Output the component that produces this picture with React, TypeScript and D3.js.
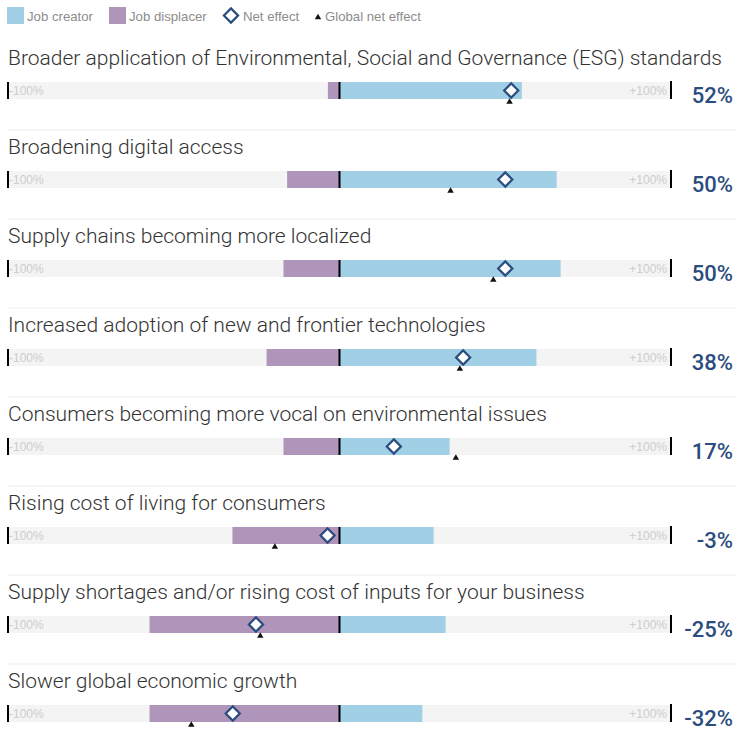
import React from "react";
import * as d3 from "d3";

const categories = [
  "Broader application of Environmental, Social and Governance (ESG) standards",
  "Broadening digital access",
  "Supply chains becoming more localized",
  "Increased adoption of new and frontier technologies",
  "Consumers becoming more vocal on environmental issues",
  "Rising cost of living for consumers",
  "Supply shortages and/or rising cost of inputs for your business",
  "Slower global economic growth",
];
const creator = [55, 65.5, 66.7, 59.4, 33.2, 28.4, 32, 25];
const displacer = [-3.5, -15.8, -16.9, -22, -16.9, -32.3, -57.3, -57.3];
const netEffect = [51.8, 50, 50, 37.3, 16.4, -3.6, -25.2, -32.2];
const globalNet = [51.3, 33.5, 46.4, 36.3, 35.1, -19.5, -23.9, -44.7];
const netLabels = ["52%", "50%", "50%", "38%", "17%", "-3%", "-25%", "-32%"];
const legendLabels = ["Job creator", "Job displacer", "Net effect", "Global net effect"];
const axisLabels = ["-100%", "+100%"];

const W = 736;
const H = 731;
const C_CREATOR = "#a0cfe6";
const C_DISP = "#b095bb";
const C_NET = "#2b4c7e";
const BG = "#f4f4f4";
const FONT = "'Liberation Sans', Arial, sans-serif";
const TFONT = "Roboto, 'Liberation Sans', sans-serif";

export default function App() {
  const x = d3.scaleLinear().domain([-100, 100]).range([8, 671]);
  const y = d3.scalePoint<string>().domain(categories).range([82, 82 + 89 * 7]);
  const barH = 17;
  const diamond = d3.symbol().type(d3.symbolSquare).size(100)();
  const tri = d3.symbol().type(d3.symbolTriangle).size(18)();

  return (
    <svg width={W} height={H} style={{ position: "absolute", left: 0, top: 0, background: "#fff" }}>
      {/* legend */}
      <g fontFamily={FONT} fontSize={13.2} fill="#8c8c8c">
        <rect x={7} y={7} width={17} height={17} fill={C_CREATOR} />
        <text x={27} y={20.5}>{legendLabels[0]}</text>
        <rect x={109} y={7} width={17} height={17} fill={C_DISP} />
        <text x={129} y={20.5}>{legendLabels[1]}</text>
        <path d={diamond} transform="translate(231,15.5) rotate(45)" fill="#fff" stroke={C_NET} strokeWidth={2.2} />
        <text x={243} y={20.5}>{legendLabels[2]}</text>
        <path d={tri} transform="translate(318,17.5)" fill="#111" />
        <text x={325} y={20.5}>{legendLabels[3]}</text>
      </g>
      {categories.map((c, i) => {
        const by = y(c)!;
        const cy = by + barH / 2;
        return (
          <g key={c}>
            {i > 0 && <line x1={8} x2={736} y1={by - 41} y2={by - 41} stroke="#ececec" strokeWidth={1} />}
            <text x={8} y={by - 17} fontFamily={TFONT} fontWeight={300} fontSize={21} fill="#333">{c}</text>
            <rect x={x(-100)} y={by} width={x(100) - x(-100)} height={barH} fill={BG} />
            <rect x={x(displacer[i])} y={by} width={x(0) - x(displacer[i])} height={barH} fill={C_DISP} />
            <rect x={x(0)} y={by} width={x(creator[i]) - x(0)} height={barH} fill={C_CREATOR} />
            <line x1={x(0)} x2={x(0)} y1={by} y2={by + barH} stroke="#000" strokeWidth={2} />
            <line x1={x(-100)} x2={x(-100)} y1={by} y2={by + barH} stroke="#000" strokeWidth={2} />
            <line x1={x(100)} x2={x(100)} y1={by - 1} y2={by + barH} stroke="#000" strokeWidth={2} />
            <text x={x(-100) + 1} y={cy + 4.5} fontFamily={FONT} fontSize={12} fill="#cdcdcd">{axisLabels[0]}</text>
            <text x={x(100) - 4} y={cy + 4.5} textAnchor="end" fontFamily={FONT} fontSize={12} fill="#cdcdcd">{axisLabels[1]}</text>
            <path d={diamond} transform={`translate(${x(netEffect[i])},${cy}) rotate(45)`} fill="#fff" stroke={C_NET} strokeWidth={2.2} />
            <path d={tri} transform={`translate(${x(globalNet[i])},${by + barH + 3})`} fill="#111" />
            <text x={733} y={by + 20.5} textAnchor="end" fontFamily={TFONT} fontWeight={500} fontSize={22} fill={C_NET}>{netLabels[i]}</text>
          </g>
        );
      })}
    </svg>
  );
}
